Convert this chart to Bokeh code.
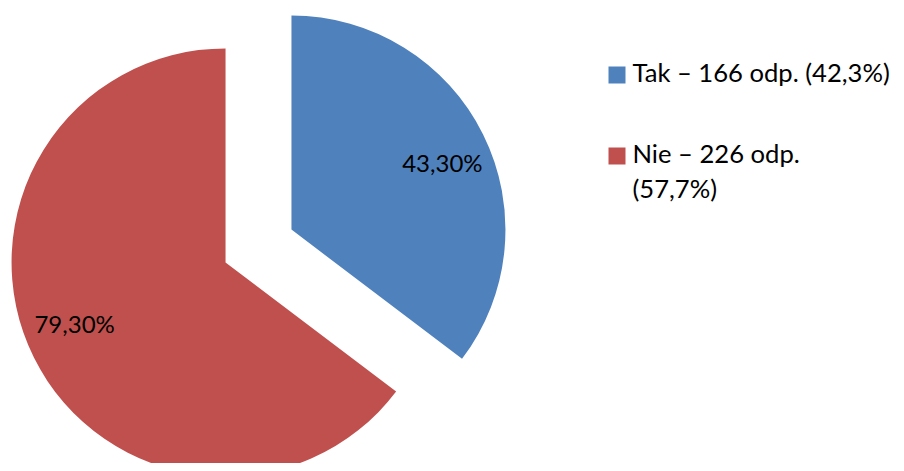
import math
from bokeh.plotting import figure
from bokeh.models import Range1d, ColumnDataSource
from bokeh.core.properties import value
from bokeh.embed import file_html
from bokeh.resources import INLINE

# ---- data ----
categories = ["Tak", "Nie"]
values = [43.3, 79.3]
slice_labels = ["43,30%", "79,30%"]
legend_lines = [["Tak – 166 odp. (42,3%)"], ["Nie – 226 odp.", "(57,7%)"]]
colors = ["#4F81BD", "#C0504D"]

# ---- layout (screen-pixel based coordinates; y up = 471 - screen_y) ----
W, H = 896, 463
def Y(sy):
    return 471 - sy

cx, cy = 258.0, Y(245.5)
radius = 214.0
explode = 36.8
label_r = 164.0
label_shift = math.radians(3.4)
label_lift = 3.0

total = sum(values)
starts, ends, xs, ys, lx, ly = [], [], [], [], [], []
acc = 0.0
for v in values:
    a0 = math.pi / 2 - 2 * math.pi * acc / total
    acc += v
    a1 = math.pi / 2 - 2 * math.pi * acc / total
    mid = (a0 + a1) / 2
    ox = cx + explode * math.cos(mid)
    oy = cy + explode * math.sin(mid)
    starts.append(a0)
    ends.append(a1)
    xs.append(ox)
    ys.append(oy)
    la = mid - label_shift
    lx.append(ox + label_r * math.cos(la))
    ly.append(oy + label_r * math.sin(la) + label_lift)

p = figure(width=W, height=H, output_backend="svg", toolbar_location=None,
           x_range=Range1d(0, W), y_range=Range1d(Y(H), Y(0)),
           x_axis_location=None, y_axis_location=None,
           min_border=0, min_border_left=0, min_border_right=0,
           min_border_top=0, min_border_bottom=0)
p.grid.visible = False
p.outline_line_color = None
p.background_fill_color = "white"
p.border_fill_color = "white"

src = ColumnDataSource(dict(x=xs, y=ys, start=starts, end=ends, color=colors,
                            cat=categories))
p.wedge(x="x", y="y", radius=radius, start_angle="start", end_angle="end",
        direction="clock", fill_color="color", line_color=None, source=src)

lsrc = ColumnDataSource(dict(x=lx, y=ly, text=slice_labels))
p.text(x="x", y="y", text="text", source=lsrc, text_align="center",
       text_baseline="middle", text_font=value("Lato"),
       text_font_size="24px", text_color="black")

# ---- legend ----
leg_x_sq = 616.5
leg_sq = 17.0
leg_text_x = 632
leg_first_mid = [74.5, 155.5]
line_gap = 35
text_lift = 3.0
sq_x, sq_y, t_x, t_y, t_text = [], [], [], [], []
for i, lines in enumerate(legend_lines):
    mid = leg_first_mid[i]
    sq_x.append(leg_x_sq)
    sq_y.append(Y(mid))
    for j, line in enumerate(lines):
        t_x.append(leg_text_x)
        t_y.append(Y(mid + j * line_gap - text_lift))
        t_text.append(line)

p.rect(x=sq_x, y=sq_y, width=leg_sq, height=leg_sq, fill_color=colors,
       line_color=None)
p.text(x=t_x, y=t_y, text=t_text, text_align="left",
       text_baseline="middle", text_font=value("Lato"),
       text_font_size="25.6px", text_color="black")

open("out.html", "w").write(file_html(p, INLINE))
